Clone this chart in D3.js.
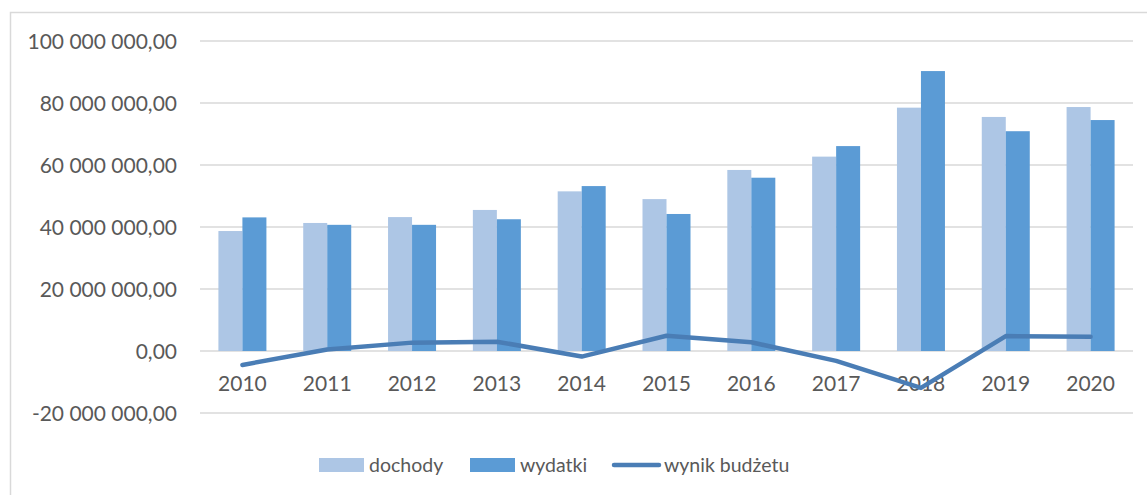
<!DOCTYPE html>
<html><head><meta charset="utf-8">
<script src="https://cdn.jsdelivr.net/npm/d3@7"></script>
<style>body{margin:0;background:#fff}svg{display:block}text{font-family:Lato,"Open Sans",sans-serif;fill:#595959}</style>
</head><body><svg id="c" width="1147" height="495"></svg>
<script>
const years = ["2010","2011","2012","2013","2014","2015","2016","2017","2018","2019","2020"];
const dochody = [38.7,41.3,43.2,45.5,51.5,49.0,58.4,62.7,78.5,75.5,78.7].map(v=>v*1e6);
const wydatki = [43.1,40.7,40.7,42.5,53.2,44.2,55.9,66.1,90.3,70.9,74.5].map(v=>v*1e6);
const wynik = [-4.5,0.5,2.7,3.0,-1.8,4.9,2.8,-3.2,-11.9,4.8,4.6].map(v=>v*1e6);
const yTicks = [-20e6,0,20e6,40e6,60e6,80e6,100e6];
const seriesNames = ["dochody","wydatki","wynik budżetu"];
const colors = ["#adc6e5","#5b9bd5","#4a7db5"];

const svg = d3.select("#c");
svg.append("rect").attr("x",10.5).attr("y",12.5).attr("width",1160).attr("height",520)
  .attr("fill","none").attr("stroke","#d9d9d9").attr("stroke-width",1.5);

const x = d3.scaleBand().domain(years).range([200,1133]);
const y = d3.scaleLinear().domain([-20e6,100e6]).range([413,41]);
const fmt = v => d3.format(",.2f")(v).replace("\u2212","-").replace(/,/g," ").replace(".",",");

const g = svg.append("g");
g.selectAll("line.grid").data(yTicks).join("line").attr("class","grid")
  .attr("x1",200).attr("x2",1133).attr("y1",d=>y(d)).attr("y2",d=>y(d))
  .attr("stroke","#d9d9d9").attr("stroke-width",1.3);
g.selectAll("text.yl").data(yTicks).join("text").attr("class","yl")
  .attr("x",177).attr("y",d=>y(d)).attr("dy","0.36em").attr("text-anchor","end")
  .attr("font-size",21).text(fmt);

const bw = 24;
g.selectAll("rect.d").data(years).join("rect").attr("class","d")
  .attr("x",d=>x(d)+x.bandwidth()/2-bw).attr("width",bw)
  .attr("y",(d,i)=>y(dochody[i])).attr("height",(d,i)=>y(0)-y(dochody[i]))
  .attr("fill",colors[0]);
g.selectAll("rect.w").data(years).join("rect").attr("class","w")
  .attr("x",d=>x(d)+x.bandwidth()/2).attr("width",bw)
  .attr("y",(d,i)=>y(wydatki[i])).attr("height",(d,i)=>y(0)-y(wydatki[i]))
  .attr("fill",colors[1]);

g.selectAll("text.xl").data(years).join("text").attr("class","xl")
  .attr("x",d=>x(d)+x.bandwidth()/2).attr("y",391).attr("text-anchor","middle")
  .attr("font-size",21).text(d=>d);

const line = d3.line().x((d,i)=>x(years[i])+x.bandwidth()/2).y(d=>y(d));
g.append("path").attr("d",line(wynik)).attr("fill","none").attr("stroke",colors[2])
  .attr("stroke-width",4.5).attr("stroke-linejoin","round").attr("stroke-linecap","round");

// legend
const lg = svg.append("g");
const legendX = [319,470,612];
const legendTextX = [369,520,664];
lg.append("rect").attr("x",legendX[0]).attr("y",458).attr("width",45).attr("height",14).attr("fill",colors[0]);
lg.append("rect").attr("x",legendX[1]).attr("y",458).attr("width",45).attr("height",14).attr("fill",colors[1]);
lg.append("line").attr("x1",legendX[2]+2).attr("x2",legendX[2]+47).attr("y1",465).attr("y2",465)
  .attr("stroke",colors[2]).attr("stroke-width",4.5).attr("stroke-linecap","round");
seriesNames.forEach((n,i)=>{
  lg.append("text").attr("x",legendTextX[i]).attr("y",465).attr("dy","0.36em")
    .attr("font-size",19.5).text(n);
});
</script></body></html>
